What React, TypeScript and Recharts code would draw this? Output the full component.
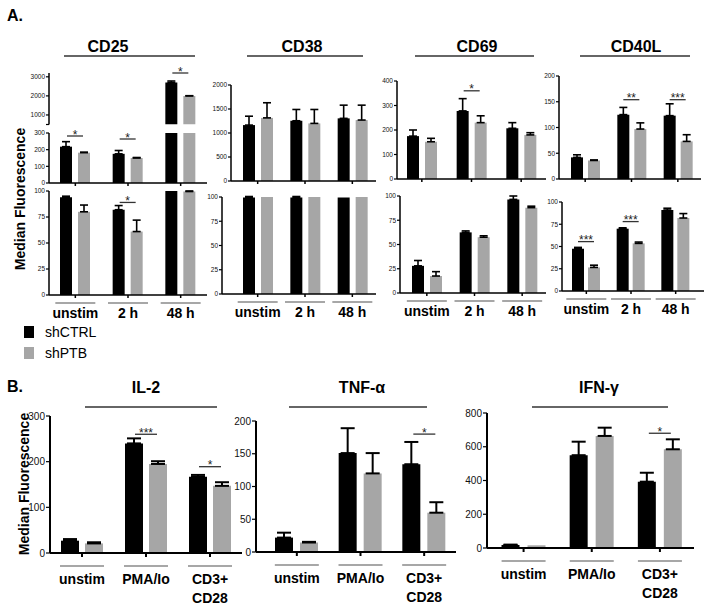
import React from 'react';
import { BarChart, Bar, XAxis, YAxis, ErrorBar } from 'recharts';

const FONT = '"Liberation Sans", Arial, Helvetica, sans-serif';
const CTRL_COLOR = '#000000';
const PTB_COLOR = '#a6a6a6';

// categories
const timePoints = ['unstim', '2 h', '48 h'];
const stimuli = ['unstim', 'PMA/Io', 'CD3+\nCD28'];

// ---- Panel A, top row (MFI) ----
// CD25 uses a broken axis: 0-300 below the break, 500-3200 above it
const cd25TopCtrl = [218, 175, 2700];
const cd25TopCtrlErr = [30, 20, 80];
const cd25TopPtb = [182, 150, 2000];
const cd25TopPtbErr = [3, 3, 10];
const cd25TopSig = [282, 264, 3200];
const cd25TopStars = ['*', '*', '*'];

const cd38TopCtrl = [1165, 1255, 1305];
const cd38TopCtrlErr = [185, 235, 275];
const cd38TopPtb = [1315, 1200, 1270];
const cd38TopPtbErr = [315, 290, 310];

const cd69TopCtrl = [175, 278, 207];
const cd69TopCtrlErr = [25, 50, 23];
const cd69TopPtb = [152, 230, 180];
const cd69TopPtbErr = [14, 28, 9];
const cd69TopSig = [null, 360, null];
const cd69TopStars = ['', '*', ''];

const cd40lTopCtrl = [42, 125, 123];
const cd40lTopCtrlErr = [5, 14, 23];
const cd40lTopPtb = [36, 97, 73];
const cd40lTopPtbErr = [1, 12, 13];
const cd40lTopSig = [null, 154, 154];
const cd40lTopStars = ['', '**', '***'];

// ---- Panel A, bottom row (% positive) ----
const cd25BotCtrl = [94, 82, 100];
const cd25BotCtrlErr = [1, 4, 0];
const cd25BotPtb = [80, 61, 99.5];
const cd25BotPtbErr = [6.5, 11, 0.5];
const cd25BotSig = [null, 89, null];
const cd25BotStars = ['', '*', ''];

const cd38BotCtrl = [99.5, 99.5, 99.5];
const cd38BotCtrlErr = [1, 1, 0];
const cd38BotPtb = [100, 100, 100];
const cd38BotPtbErr = [0, 0, 0];

const cd69BotCtrl = [28, 62.5, 96.5];
const cd69BotCtrlErr = [5.5, 1.5, 3.5];
const cd69BotPtb = [17.5, 57.5, 88];
const cd69BotPtbErr = [4.5, 1.5, 1.5];

const cd40lBotCtrl = [47.5, 70, 91];
const cd40lBotCtrlErr = [1.5, 1, 2];
const cd40lBotPtb = [26.5, 53.5, 82];
const cd40lBotPtbErr = [2.5, 1.5, 5];
const cd40lBotSig = [55.5, 78, null];
const cd40lBotStars = ['***', '***', ''];

// ---- Panel B (cytokines) ----
const il2Ctrl = [27, 240, 167];
const il2CtrlErr = [3.5, 11, 4];
const il2Ptb = [21, 195, 147];
const il2PtbErr = [2.5, 6, 8];
const il2Sig = [null, 260, 189];
const il2Stars = ['', '***', '*'];

const tnfCtrl = [22, 151, 134];
const tnfCtrlErr = [7.5, 38, 34];
const tnfPtb = [14.5, 120, 60];
const tnfPtbErr = [1, 31, 16];
const tnfSig = [null, null, 180];
const tnfStars = ['', '', '*'];

const ifnCtrl = [18, 550, 393];
const ifnCtrlErr = [2, 80, 53];
const ifnPtb = [16, 664, 585];
const ifnPtbErr = [0, 49, 59];
const ifnSig = [null, null, 680];
const ifnStars = ['', '', '*'];

// tick labels
const mfiTicksCd25Low = [0, 100, 200, 300];
const mfiTicksCd25High = [500, 1000, 2000, 3000];
const mfiTicksCd38 = [0, 500, 1000, 1500, 2000];
const mfiTicksCd69 = [0, 100, 200, 300, 400];
const mfiTicksCd40l = [0, 50, 100, 150, 200];
const pctTicks = [0, 25, 50, 75, 100];
const il2Ticks = [0, 100, 200, 300];
const tnfTicks = [0, 50, 100, 150, 200];
const ifnTicks = [0, 200, 400, 600, 800];

type Num = number | null;
type Row = {
  cat: string;
  ctrl: Num;
  ptb: Num;
  ctrlErr?: number[];
  ptbErr?: number[];
  sig: Num;
  stars: string;
};

const err = (e: number) => (e ? [0, e] : undefined);

function makeRows(
  cats: string[],
  ctrl: Num[],
  ctrlErr: number[],
  ptb: Num[],
  ptbErr: number[],
  sig: Num[] = [],
  stars: string[] = []
): Row[] {
  return cats.map((cat, i) => ({
    cat,
    ctrl: ctrl[i],
    ptb: ptb[i],
    ctrlErr: err(ctrlErr[i]),
    ptbErr: err(ptbErr[i]),
    sig: sig[i] ?? null,
    stars: stars[i] ?? '',
  }));
}

// split the CD25 data over the two halves of the broken axis
const BREAK_LOW = 300;
const BREAK_HIGH = 500;
const lowPart = (v: Num[]) => v.map((x) => (x != null && x <= BREAK_LOW ? x : null));
const highPart = (v: Num[]) => v.map((x) => (x != null && x > BREAK_HIGH ? x : null));
const errLow = (v: Num[], e: number[]) => e.map((x, i) => ((v[i] ?? 0) <= BREAK_LOW ? x : 0));
const errHigh = (v: Num[], e: number[]) => e.map((x, i) => ((v[i] ?? 0) > BREAK_HIGH ? x : 0));

const cd25LowRows = makeRows(
  timePoints,
  cd25TopCtrl,
  errLow(cd25TopCtrl, cd25TopCtrlErr),
  cd25TopPtb,
  errLow(cd25TopPtb, cd25TopPtbErr),
  lowPart(cd25TopSig),
  cd25TopStars
);
const cd25HighRows = makeRows(
  timePoints,
  highPart(cd25TopCtrl),
  errHigh(cd25TopCtrl, cd25TopCtrlErr),
  highPart(cd25TopPtb),
  errHigh(cd25TopPtb, cd25TopPtbErr),
  highPart(cd25TopSig),
  cd25TopStars
);

const SigShape = (props: any) => {
  const { x, y, width, payload } = props;
  if (!payload || !payload.stars || payload.sig == null || !isFinite(y)) return <g />;
  return (
    <g>
      <line x1={x} x2={x + width} y1={y} y2={y} stroke="#333" strokeWidth={1.3} />
      <text
        x={x + width / 2}
        y={y + 2.5}
        textAnchor="middle"
        fontSize={12}
        fontFamily={FONT}
        fill="#222"
      >
        {payload.stars}
      </text>
    </g>
  );
};

const GroupTick = (props: any) => {
  const { x, y, payload, kind, tickSize } = props;
  if (kind === 'none') return <g />;
  const axisY = y - tickSize;
  const lines = String(payload.value).split('\n');
  const half = kind === 'A' ? 20 : 22;
  const lineOff = kind === 'A' ? 8 : 13;
  const textOff = kind === 'A' ? 23 : 31;
  return (
    <g>
      <line
        x1={x - half}
        x2={x + half}
        y1={axisY + lineOff}
        y2={axisY + lineOff}
        stroke="#8a8a8a"
        strokeWidth={1.6}
      />
      {lines.map((t, i) => (
        <text
          key={i}
          x={x}
          y={axisY + textOff + i * 19}
          textAnchor="middle"
          fontSize={14}
          fontWeight="bold"
          fontFamily={FONT}
          fill="#000"
        >
          {t}
        </text>
      ))}
    </g>
  );
};

type PanelProps = {
  data: Row[];
  x0: number;
  x1: number;
  yTop: number;
  yBot: number;
  domain: [number, number];
  ticks: number[];
  hiddenLabels?: number[];
  padL: number;
  padR?: number;
  xMode: 'none' | 'line' | 'A' | 'B';
  big?: boolean;
  barGap?: number;
};

function Panel(p: PanelProps) {
  const big = !!p.big;
  const mL = 32;
  const mT = 20;
  const mR = 6;
  const mB = 2;
  const tickSize = big ? 4 : 3;
  const xH = p.xMode === 'A' || p.xMode === 'B' ? 58 : p.xMode === 'line' ? 6 : 0;
  const width = mL + (p.x1 - p.x0) + mR;
  const height = mT + (p.yBot - p.yTop) + xH + mB;
  const pad = { left: p.padL, right: p.padR ?? 0 };
  const barSize = big ? 18 : 12;
  const sigWidth = big ? 22 : 16;
  const cap = big ? 7 : 4;
  const axisStroke = big ? 2 : 1.5;
  const hidden = p.hiddenLabels ?? [];
  const tickKind = p.xMode === 'A' || p.xMode === 'B' ? p.xMode : 'none';

  return (
    <div style={{ position: 'absolute', left: p.x0 - mL, top: p.yTop - mT }}>
      <BarChart
        width={width}
        height={height}
        data={p.data}
        margin={{ top: mT, right: mR, bottom: mB, left: 0 }}
        barGap={p.barGap ?? (big ? 7 : 6)}
      >
        <XAxis
          xAxisId="main"
          dataKey="cat"
          hide={p.xMode === 'none'}
          height={xH}
          padding={pad}
          interval={0}
          tickSize={tickSize}
          tickMargin={0}
          axisLine={{ stroke: '#000', strokeWidth: axisStroke }}
          tickLine={{ stroke: '#000', strokeWidth: axisStroke }}
          tick={(t: any) => <GroupTick {...t} kind={tickKind} tickSize={tickSize} />}
        />
        <XAxis xAxisId="sig" dataKey="cat" hide padding={pad} />
        <YAxis
          yAxisId="main"
          type="number"
          width={mL}
          domain={p.domain}
          ticks={p.ticks}
          allowDataOverflow
          interval={0}
          tickSize={tickSize}
          tickMargin={1}
          axisLine={{ stroke: '#000', strokeWidth: axisStroke }}
          tickLine={{ stroke: '#000', strokeWidth: 1.2 }}
          tick={{ fontSize: big ? 10 : 6.5, fill: '#111', fontFamily: FONT }}
          tickFormatter={(v: number) => (hidden.includes(v) ? '' : String(v))}
        />
        <YAxis yAxisId="sig" type="number" hide domain={p.domain} ticks={p.ticks} />
        <Bar
          xAxisId="main"
          yAxisId="main"
          dataKey="ctrl"
          fill={CTRL_COLOR}
          barSize={barSize}
          isAnimationActive={false}
        >
          <ErrorBar dataKey="ctrlErr" width={cap} stroke="#000" strokeWidth={big ? 2 : 1.6} direction="y" />
        </Bar>
        <Bar
          xAxisId="main"
          yAxisId="main"
          dataKey="ptb"
          fill={PTB_COLOR}
          barSize={barSize}
          isAnimationActive={false}
        >
          <ErrorBar dataKey="ptbErr" width={cap} stroke="#000" strokeWidth={big ? 2 : 1.6} direction="y" />
        </Bar>
        <Bar
          xAxisId="sig"
          yAxisId="sig"
          dataKey="sig"
          barSize={sigWidth}
          shape={SigShape}
          isAnimationActive={false}
        />
      </BarChart>
    </div>
  );
}

const titleStyle = { fontSize: 16, fontWeight: 'bold' as const, fontFamily: FONT, fill: '#000' };

function Decorations() {
  const titlesA = [
    { t: 'CD25', x: 108, l0: 64, l1: 195 },
    { t: 'CD38', x: 302, l0: 247, l1: 363 },
    { t: 'CD69', x: 477, l0: 415, l1: 534 },
    { t: 'CD40L', x: 636, l0: 580, l1: 690 },
  ];
  const titlesB = [
    { t: 'IL-2', x: 146, l0: 85, l1: 217 },
    { t: 'TNF-α', x: 362, l0: 289, l1: 427 },
    { t: 'IFN-γ', x: 599, l0: 532, l1: 668 },
  ];
  return (
    <svg width={713} height={609} style={{ position: 'absolute', left: 0, top: 0 }}>
      <text x={7} y={21} {...titleStyle}>A.</text>
      <text x={7} y={392} {...titleStyle}>B.</text>
      {titlesA.map((d) => (
        <g key={d.t}>
          <text x={d.x} y={52} textAnchor="middle" {...titleStyle}>{d.t}</text>
          <line x1={d.l0} x2={d.l1} y1={56} y2={56} stroke="#333" strokeWidth={1.5} />
        </g>
      ))}
      {titlesB.map((d) => (
        <g key={d.t}>
          <text x={d.x} y={393} textAnchor="middle" {...titleStyle}>{d.t}</text>
          <line x1={d.l0} x2={d.l1} y1={407} y2={407} stroke="#333" strokeWidth={1.5} />
        </g>
      ))}
      <text
        transform="translate(25,199) rotate(-90)"
        textAnchor="middle"
        fontSize={14}
        fontWeight="bold"
        fontFamily={FONT}
      >
        Median Fluorescence
      </text>
      <text
        transform="translate(29,484) rotate(-90)"
        textAnchor="middle"
        fontSize={14}
        fontWeight="bold"
        fontFamily={FONT}
      >
        Median Fluorescence
      </text>
      <rect x={24} y={326} width={10} height={12} fill={CTRL_COLOR} />
      <text x={45} y={337} fontSize={14} fontFamily={FONT}>shCTRL</text>
      <rect x={24} y={347} width={10} height={12} fill={PTB_COLOR} />
      <text x={45} y={358} fontSize={14} fontFamily={FONT}>shPTB</text>
    </svg>
  );
}

export default function App() {
  return (
    <div
      style={{
        position: 'absolute',
        left: 0,
        top: 0,
        width: 713,
        height: 609,
        background: '#fff',
        fontFamily: FONT,
      }}
    >
      <Decorations />

      {/* Panel A, top row */}
      <Panel
        data={cd25HighRows}
        x0={49}
        x1={207}
        yTop={73}
        yBot={124.5}
        domain={[500, 3200]}
        ticks={mfiTicksCd25High}
        hiddenLabels={[500]}
        padL={0}
        xMode="none"
      />
      <Panel
        data={cd25LowRows}
        x0={49}
        x1={207}
        yTop={133}
        yBot={183}
        domain={[0, 300]}
        ticks={mfiTicksCd25Low}
        padL={0}
        xMode="line"
      />
      <Panel
        data={makeRows(timePoints, cd38TopCtrl, cd38TopCtrlErr, cd38TopPtb, cd38TopPtbErr)}
        x0={231}
        x1={376}
        yTop={85}
        yBot={181}
        domain={[0, 2000]}
        ticks={mfiTicksCd38}
        padL={3}
        xMode="line"
      />
      <Panel
        data={makeRows(timePoints, cd69TopCtrl, cd69TopCtrlErr, cd69TopPtb, cd69TopPtbErr, cd69TopSig, cd69TopStars)}
        x0={397}
        x1={546}
        yTop={81}
        yBot={179}
        domain={[0, 400]}
        ticks={mfiTicksCd69}
        padL={0}
        xMode="line"
      />
      <Panel
        data={makeRows(timePoints, cd40lTopCtrl, cd40lTopCtrlErr, cd40lTopPtb, cd40lTopPtbErr, cd40lTopSig, cd40lTopStars)}
        x0={559}
        x1={701}
        yTop={76}
        yBot={179}
        domain={[0, 200]}
        ticks={mfiTicksCd40l}
        padL={3}
        xMode="line"
        barGap={5}
      />

      {/* Panel A, bottom row */}
      <Panel
        data={makeRows(timePoints, cd25BotCtrl, cd25BotCtrlErr, cd25BotPtb, cd25BotPtbErr, cd25BotSig, cd25BotStars)}
        x0={49}
        x1={207}
        yTop={191}
        yBot={295}
        domain={[0, 100]}
        ticks={pctTicks}
        padL={0}
        xMode="A"
      />
      <Panel
        data={makeRows(timePoints, cd38BotCtrl, cd38BotCtrlErr, cd38BotPtb, cd38BotPtbErr)}
        x0={222}
        x1={376}
        yTop={197}
        yBot={294}
        domain={[0, 100]}
        ticks={pctTicks}
        padL={12}
        xMode="A"
      />
      <Panel
        data={makeRows(timePoints, cd69BotCtrl, cd69BotCtrlErr, cd69BotPtb, cd69BotPtbErr)}
        x0={400}
        x1={546}
        yTop={196}
        yBot={293}
        domain={[0, 100]}
        ticks={pctTicks}
        padL={3}
        xMode="A"
      />
      <Panel
        data={makeRows(timePoints, cd40lBotCtrl, cd40lBotCtrlErr, cd40lBotPtb, cd40lBotPtbErr, cd40lBotSig, cd40lBotStars)}
        x0={562}
        x1={704}
        yTop={202}
        yBot={291}
        domain={[0, 100]}
        ticks={pctTicks}
        padL={2}
        padR={6}
        xMode="A"
        barGap={4}
      />

      {/* Panel B */}
      <Panel
        data={makeRows(stimuli, il2Ctrl, il2CtrlErr, il2Ptb, il2PtbErr, il2Sig, il2Stars)}
        x0={50}
        x1={242}
        yTop={416}
        yBot={553}
        domain={[0, 300]}
        ticks={il2Ticks}
        padL={0}
        xMode="B"
        big
        barGap={6}
      />
      <Panel
        data={makeRows(stimuli, tnfCtrl, tnfCtrlErr, tnfPtb, tnfPtbErr, tnfSig, tnfStars)}
        x0={256}
        x1={456}
        yTop={421}
        yBot={552}
        domain={[0, 200]}
        ticks={tnfTicks}
        padL={9}
        xMode="B"
        big
      />
      <Panel
        data={makeRows(stimuli, ifnCtrl, ifnCtrlErr, ifnPtb, ifnPtbErr, ifnSig, ifnStars)}
        x0={487}
        x1={694}
        yTop={413}
        yBot={548}
        domain={[0, 800]}
        ticks={ifnTicks}
        padL={2.5}
        xMode="B"
        big
        barGap={8}
      />
    </div>
  );
}
